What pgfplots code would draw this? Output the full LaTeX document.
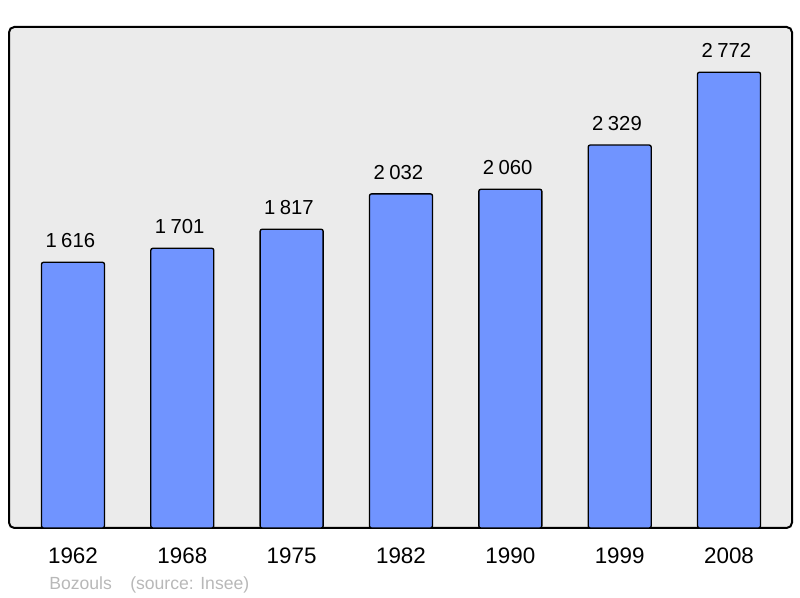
\documentclass[border=0pt]{standalone}
\usepackage{pgfplots}
\pgfplotsset{compat=1.18}
\usepackage{fontspec}
\setmainfont{Liberation Sans}
\definecolor{barblue}{HTML}{7094FF}
\definecolor{panelbg}{HTML}{EBEBEB}
\definecolor{srcgray}{HTML}{B8B8B8}
\begin{document}
\begin{tikzpicture}
\useasboundingbox (-6.75pt,-52.5pt) rectangle (593.25pt,396pt);
\begin{axis}[
  at={(0,0)}, anchor=south west,
  scale only axis,
  width=587.25pt, height=375.75pt,
  xmin=-0.585, xmax=6.576,
  ymin=0, ymax=3047,
  axis line style={draw=none},
  axis background/.style={fill=panelbg, draw=black, line width=1.5pt, rounded corners=4pt},
  xtick=data,
  xticklabels={1962,1968,1975,1982,1990,1999,2008},
  xticklabel style={font=\fontsize{16.8}{16.8}\selectfont, anchor=center, yshift=-21pt},
  major tick length=0pt,
  ytick=\empty,
  ybar, bar width=47.25pt, bar shift=0pt,
  nodes near coords={\pgfmathprintnumber[1000 sep={\hspace{0.22em}}, assume math mode=true]{\pgfplotspointmeta}},
  every node near coord/.append style={font=\fontsize{15.2}{15.2}\selectfont, anchor=center, yshift=16pt, xshift=-2pt, text=black},
  clip=false,
]
\addplot[fill=barblue, draw=black, line width=1pt, rounded corners=1.5pt] coordinates {
 (0,1616) (1,1701) (2,1817) (3,2032) (4,2060) (5,2329) (6,2772)
};
\end{axis}
\node[anchor=base west, text=srcgray, font=\fontsize{13.2}{13.2}\selectfont, inner sep=0pt] at (30pt,-46.5pt) {Bozouls};
\node[anchor=base west, text=srcgray, font=\fontsize{13.2}{13.2}\selectfont, inner sep=0pt] at (90.75pt,-46.5pt) {(source: Insee)};
\end{tikzpicture}
\end{document}
